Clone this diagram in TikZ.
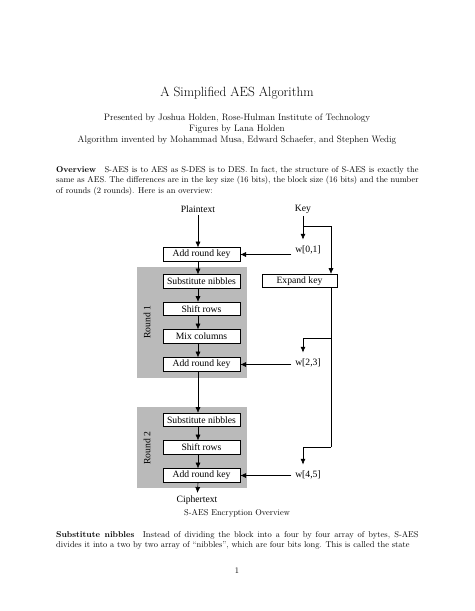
\documentclass[tikz,border=0pt]{standalone}
\usepackage{fontspec}
\newfontfamily\figfont{Liberation Serif}
\usetikzlibrary{arrows.meta}

\tikzset{
  box/.style={draw, fill=white, line width=0.8bp, minimum width=99.4bp, minimum height=17.4bp, inner sep=0pt, font=\figfont\fontsize{12.5}{13}\selectfont},
  lbl/.style={font=\figfont\fontsize{12.5}{13}\selectfont},
  wlbl/.style={lbl, inner xsep=5bp, inner ysep=8bp},
  ln/.style={line width=0.8bp},
  arr/.style={ln, -{Latex[length=7.5bp,width=6.5bp]}},
  rnd/.style={fill=black!27},
  body/.style={font=\fontsize{10.95}{13.6}\selectfont}
}

\begin{document}
\begin{tikzpicture}[x=1.2911bp,y=-1.2911bp]
\useasboundingbox[fill=white] (0,0) rectangle (474,611);

% page text
\node (title) at (237,93) {\fontsize{17.28}{22}\selectfont A Simplified AES Algorithm};
\node[align=center, font=\fontsize{12}{14.5}\selectfont] (authors) at (237,129)
  {Presented by Joshua Holden, Rose-Hulman Institute of Technology\\
   Figures by Lana Holden\\
   Algorithm invented by Mohammad Musa, Edward Schaefer, and Stephen Wedig};
\node[body, anchor=north west, inner sep=0pt, text width=6.5in, align=justify] (overview) at (56,166)
  {\textbf{Overview}\hspace{1em}S-AES is to AES as S-DES is to DES. In fact, the structure of S-AES is exactly the same as AES. The differences are in the key size (16 bits), the block size (16 bits) and the number of rounds (2 rounds). Here is an overview:};

% round backgrounds
\fill[rnd] (137,267) rectangle (247,378);
\fill[rnd] (137,407) rectangle (247,488);
\node[lbl, rotate=90] (round1) at (147,322) {Round 1};
\node[lbl, rotate=90] (round2) at (147,448) {Round 2};

% inputs
\node[lbl] (plain) at (198,209) {Plaintext};
\node[lbl] (key) at (303,209) {Key};

% main column
\node[box] (ark0) at (201.5,254.5) {Add round key};
\node[box] (sub1) at (201.5,281.5) {Substitute nibbles};
\node[box] (shift1) at (201.5,309) {Shift rows};
\node[box] (mix1) at (201.5,336.5) {Mix columns};
\node[box] (ark1) at (201.5,364.5) {Add round key};
\node[box] (sub2) at (201.5,420) {Substitute nibbles};
\node[box] (shift2) at (201.5,447.5) {Shift rows};
\node[box] (ark2) at (201.5,475.5) {Add round key};
\node[lbl] (cipher) at (197,500) {Ciphertext};

% key column
\node[box, minimum width=96.8bp] (exp) at (299.5,281) {Expand key};
\node[wlbl] (w01) at (308,250) {w[0,1]};
\node[wlbl] (w23) at (308,363) {w[2,3]};
\node[wlbl] (w45) at (308,475) {w[4,5]};
\coordinate (ksplit) at (303,226);
\coordinate (kcorner) at (331,226);
\coordinate (e23) at (331,338);
\coordinate (e45) at (331,447);

% main column arrows
\draw[arr] (plain) -- (plain |- ark0.north);
\draw[arr] (ark0.south -| plain) -- (sub1.north -| plain);
\draw[arr] (sub1.south -| plain) -- (shift1.north -| plain);
\draw[arr] (shift1.south -| plain) -- (mix1.north -| plain);
\draw[arr] (mix1.south -| plain) -- (ark1.north -| plain);
\draw[arr] (ark1.south -| plain) -- (sub2.north -| plain);
\draw[arr] (sub2.south -| plain) -- (shift2.north -| plain);
\draw[arr] (shift2.south -| plain) -- (ark2.north -| plain);
\draw[arr] (ark2.south -| plain) -- (cipher);

% key schedule
\draw[arr] (key) -- (key |- w01.north);
\draw[arr] (ksplit) -- (kcorner) -- (kcorner |- exp.north);
\draw[ln] (e23 |- exp.south) -- (e45);
\draw[arr] (e23) -- (e23 -| key) -- (key |- w23.north);
\draw[arr] (e45) -- (e45 -| key) -- (key |- w45.north);
\draw[arr] (w01.west |- ark0) -- (ark0.east);
\draw[arr] (w23.west |- ark1) -- (ark1.east);
\draw[arr] (w45.west |- ark2) -- (ark2.east);

% caption and following text
\node[body] (caption) at (237,513) {S-AES Encryption Overview};
\node[body, anchor=north west, inner sep=0pt, text width=6.5in, align=justify] (subnib) at (56,531)
  {\parfillskip=0pt \textbf{Substitute nibbles}\hspace{1em}Instead of dividing the block into a four by four array of bytes, S-AES divides it into a two by two array of “nibbles”, which are four bits long. This is called the state};
\node[body] (pagenum) at (237,571) {1};

\end{tikzpicture}
\end{document}
